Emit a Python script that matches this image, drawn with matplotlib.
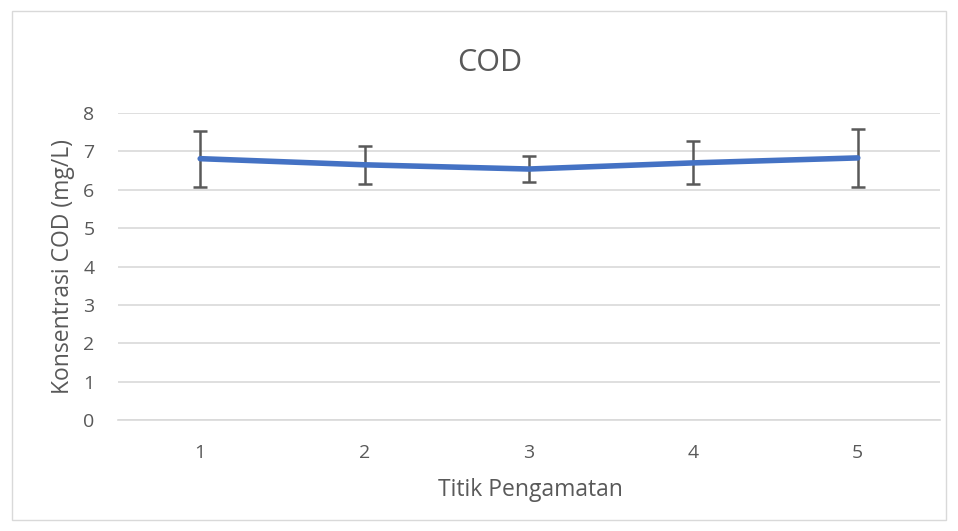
import matplotlib
matplotlib.use("Agg")
import matplotlib.pyplot as plt
from matplotlib.patches import Rectangle

titik = [1, 2, 3, 4, 5]
cod_mean = [6.81, 6.65, 6.54, 6.70, 6.83]
cod_err = [0.73, 0.50, 0.33, 0.56, 0.76]
y_ticks = [0, 1, 2, 3, 4, 5, 6, 7, 8]

plt.rcParams["font.family"] = ["Open Sans", "DejaVu Sans"]
text_color = "#595959"

fig = plt.figure(figsize=(9.58, 5.31), dpi=100)
fig.patches.append(Rectangle((12 / 958, 11 / 531), 934 / 958, 509 / 531,
                             transform=fig.transFigure, fill=False,
                             edgecolor="#d9d9d9", linewidth=1))
ax = fig.add_axes([118 / 958, 111 / 531, 822 / 958, 307 / 531])

ax.errorbar(titik, cod_mean, yerr=cod_err, color="#4472c4", linewidth=4,
            ecolor="#595959", elinewidth=1.8, capsize=5, capthick=1.8,
            solid_capstyle="round", zorder=3)

ax.set_xlim(0.5, 5.5)
ax.set_ylim(0, 8)
ax.set_yticks(y_ticks)
ax.set_xticks(titik)
ax.grid(axis="y", color="#d9d9d9", linewidth=1.2)
ax.set_axisbelow(True)
for side in ["top", "right", "left"]:
    ax.spines[side].set_visible(False)
ax.spines["bottom"].set_color("#d9d9d9")
ax.spines["bottom"].set_linewidth(1.2)
ax.tick_params(length=0, labelsize=14, labelcolor=text_color)
ax.tick_params(axis="y", pad=17)
ax.tick_params(axis="x", pad=17)

fig.text(490 / 958, 460 / 531, "COD", fontsize=22, color=text_color,
         ha="center", va="baseline")
fig.text(530 / 958, 35 / 531, "Titik Pengamatan", fontsize=16.5, color=text_color,
         ha="center", va="baseline")
fig.text(69 / 958, 264 / 531, "Konsentrasi COD (mg/L)", fontsize=16.5,
         color=text_color, rotation=90, ha="center", va="baseline",
         rotation_mode="anchor")

fig.savefig("out.png", dpi=100)
